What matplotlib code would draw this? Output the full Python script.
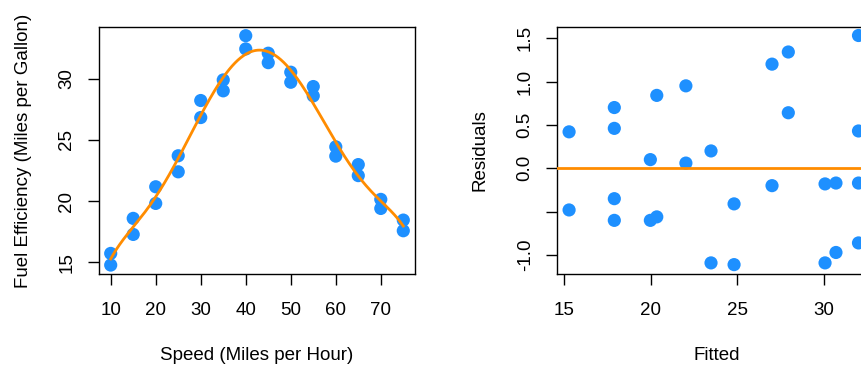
import numpy as np
import matplotlib
matplotlib.use("Agg")
import matplotlib.pyplot as plt

plt.rcParams['font.family'] = ['Liberation Sans', 'DejaVu Sans']

# Left panel data
speed = [10, 10, 15, 15, 20, 20, 25, 25, 30, 30, 35, 35, 40, 40,
         45, 45, 50, 50, 55, 55, 60, 60, 65, 65, 70, 70, 75, 75]
mpg = [15.73, 14.78, 18.59, 17.28, 21.17, 19.81, 23.70, 22.39, 28.21, 26.82,
       29.89, 29.00, 33.50, 32.42, 32.07, 31.30, 30.52, 29.70, 29.35, 28.59,
       24.43, 23.67, 22.98, 22.08, 20.14, 19.40, 18.45, 17.58]

# Right panel data
fitted = [15.29, 15.29, 17.9, 17.9, 17.9, 17.9, 19.98, 19.98, 20.35, 20.35,
          22.03, 22.03, 23.48, 23.48, 24.81, 24.81, 27.0, 27.0, 27.94, 27.94,
          30.06, 30.06, 30.69, 30.69, 31.99, 31.99, 31.99, 31.99]
residuals = [0.42, -0.48, 0.70, 0.46, -0.35, -0.60, 0.10, -0.60, 0.84, -0.56,
             0.95, 0.06, 0.20, -1.09, -0.41, -1.11, 1.20, -0.20, 1.34, 0.64,
             -0.18, -1.09, -0.17, -0.97, 1.53, 0.43, -0.17, -0.86]

left_xticks = [10, 20, 30, 40, 50, 60, 70]
left_yticks = [15, 20, 25, 30]
right_xticks = [15, 20, 25, 30]
right_yticks = [-1.0, -0.5, 0.0, 0.5, 1.0, 1.5]
right_yticklabels = ["-1.0", "", "0.0", "0.5", "1.0", "1.5"]

BLUE = "#1E90FF"
ORANGE = "#FF8C00"
FS = 13.5

fig = plt.figure(figsize=(8.62, 3.67), dpi=100)
W, H = 862.0, 367.0

def axes_px(x0, x1, y0, y1):
    return fig.add_axes([x0 / W, 1 - y1 / H, (x1 - x0) / W, (y1 - y0) / H])

ax1 = axes_px(99, 415, 27, 274)
ax2 = axes_px(557.3, 876, 27, 274)

# Smooth fit of the left panel data
coef = np.polyfit(speed, mpg, 6)
xs = np.linspace(min(speed), max(speed), 300)
ax1.plot(xs, np.polyval(coef, xs), color=ORANGE, lw=2.0, zorder=3)
ax1.scatter(speed, mpg, s=90, color=BLUE, edgecolors='none', zorder=2)
ax1.set_xlim(7.4, 77.6)
ax1.set_ylim(14.05, 34.21)
ax1.set_xticks(left_xticks)
ax1.set_yticks(left_yticks)
ax1.set_xlabel("Speed (Miles per Hour)", fontsize=FS, labelpad=20)
ax1.set_ylabel("Fuel Efficiency (Miles per Gallon)", fontsize=FS, labelpad=19)

ax2.axhline(0, color=ORANGE, lw=2.0, zorder=3)
ax2.scatter(fitted, residuals, s=90, color=BLUE, edgecolors='none', zorder=2)
ax2.set_xlim(14.61, 33.0)
ax2.set_ylim(-1.218, 1.628)
ax2.set_xticks(right_xticks)
ax2.set_yticks(right_yticks)
ax2.set_yticklabels(right_yticklabels)
ax2.set_xlabel("Fitted", fontsize=FS, labelpad=20)
ax2.set_ylabel("Residuals", fontsize=FS, labelpad=20)

for ax in (ax1, ax2):
    for sp in ax.spines.values():
        sp.set_linewidth(1.0)
        sp.set_color("black")
    ax.tick_params(axis='both', length=8, width=1.0, labelsize=FS)
    ax.tick_params(axis='x', pad=12)
    ax.tick_params(axis='y', pad=9)
    for lab in ax.get_yticklabels():
        lab.set_rotation(90)
        lab.set_va('center')

fig.savefig("out.png", dpi=100)
